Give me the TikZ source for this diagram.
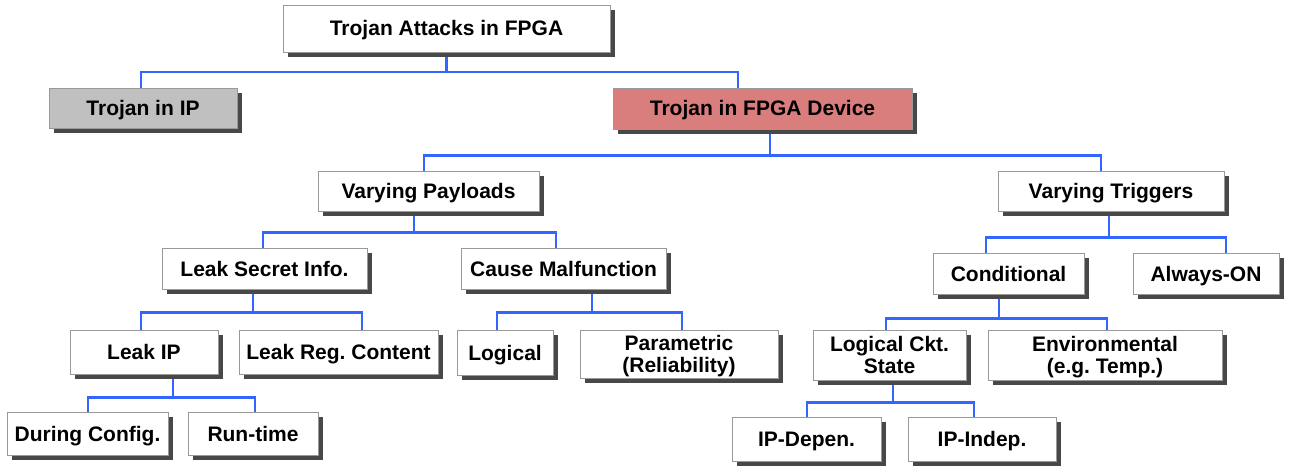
\documentclass[tikz,border=0pt]{standalone}
\usepackage{fontspec}
\setmainfont{Liberation Sans}
\usetikzlibrary{calc}
\usetikzlibrary{shadows}
\usetikzlibrary{backgrounds}
\definecolor{linkblue}{RGB}{51,102,255}
\definecolor{ipgray}{RGB}{192,192,192}
\definecolor{fpgared}{RGB}{217,125,125}
\definecolor{shadowgray}{RGB}{72,72,72}
\frenchspacing

\begin{document}
\begin{tikzpicture}[x=1pt, y=-1pt,
  box/.style={draw=black!40, line width=.8pt, fill=white, inner sep=0pt, align=center,
    font=\fontsize{21}{22}\selectfont\bfseries, text height=15pt, text depth=0pt,
    drop shadow={shadow xshift=5pt, shadow yshift=-5pt, fill=shadowgray, opacity=1}},
  twoline/.style={text height=37pt},
  link/.style={linkblue, line width=2.2pt}]
\useasboundingbox (0,0) rectangle (1292,468);
% level 0 and 1
\node[box, minimum width=327pt, minimum height=47pt] (root) at (446.5,28.5) {Trojan Attacks in FPGA};
\node[box, fill=ipgray, minimum width=188pt, minimum height=40pt] (ip) at (143,108) {Trojan in IP};
\node[box, fill=fpgared, minimum width=299pt, minimum height=41pt] (fpga) at (762.5,108.5) {Trojan in FPGA Device};
% level 2
\node[box, minimum width=221pt, minimum height=40pt] (payload) at (428.5,191) {Varying Payloads};
\node[box, minimum width=226pt, minimum height=40pt] (trigger) at (1111,191) {Varying Triggers};
% level 3
\node[box, minimum width=205pt, minimum height=41pt] (leak) at (264.5,268.5) {Leak Secret Info.};
\node[box, minimum width=205pt, minimum height=41pt] (cause) at (563.5,268.5) {Cause Malfunction};
\node[box, minimum width=151pt, minimum height=41pt] (cond) at (1008.5,273.5) {Conditional};
\node[box, minimum width=146pt, minimum height=41pt] (always) at (1206,273.5) {Always-ON};
% level 4
\node[box, minimum width=148pt, minimum height=44pt] (leakip) at (144,352) {Leak IP};
\node[box, minimum width=199pt, minimum height=44pt] (leakreg) at (338.5,352) {Leak Reg. Content};
\node[box, minimum width=96pt, minimum height=45pt] (logical) at (505,352.5) {Logical};
\node[box, twoline, minimum width=198pt, minimum height=48pt] (param) at (679,354) {Parametric\\(Reliability)};
\node[box, twoline, minimum width=153pt, minimum height=50pt] (lcs) at (889.5,355) {Logical Ckt.\\State};
\node[box, twoline, minimum width=234pt, minimum height=50pt] (env) at (1105,355) {Environmental\\(e.g. Temp.)};
% level 5
\node[box, minimum width=161pt, minimum height=43pt] (during) at (87.5,433.5) {During Config.};
\node[box, minimum width=130pt, minimum height=43pt] (runtime) at (253,433.5) {Run-time};
\node[box, minimum width=149pt, minimum height=44pt] (ipdep) at (806.5,439) {IP-Depen.};
\node[box, minimum width=148pt, minimum height=44pt] (ipind) at (982,439) {IP-Indep.};
% tree links
\begin{scope}[on background layer]
\foreach \p/\dx/\dy/\a/\da/\b/\db in {root/0/20/ip/-2/fpga/-24.5,
    fpga/7.5/26/payload/-4.5/trigger/-10,
    payload/-14.5/21/leak/-1.5/cause/-7.5,
    trigger/-2/26/cond/-22.5/always/20,
    leak/-11.5/23/leakip/-3/leakreg/23.5,
    cause/28.5/23/logical/-8/param/3,
    cond/-9.5/24/lcs/-3.5/env/2,
    leakip/29/23/during/0.5/runtime/2,
    lcs/3.5/22/ipdep/0.5/ipind/-8} {
 \draw[link] ([xshift=\dx pt]\p.south) -- ++(0,\dy) coordinate (bus);
 \draw[link] ([xshift=\da pt]\a.north) |- (bus) -| ([xshift=\db pt]\b.north);
}
\end{scope}
\end{tikzpicture}
\end{document}
